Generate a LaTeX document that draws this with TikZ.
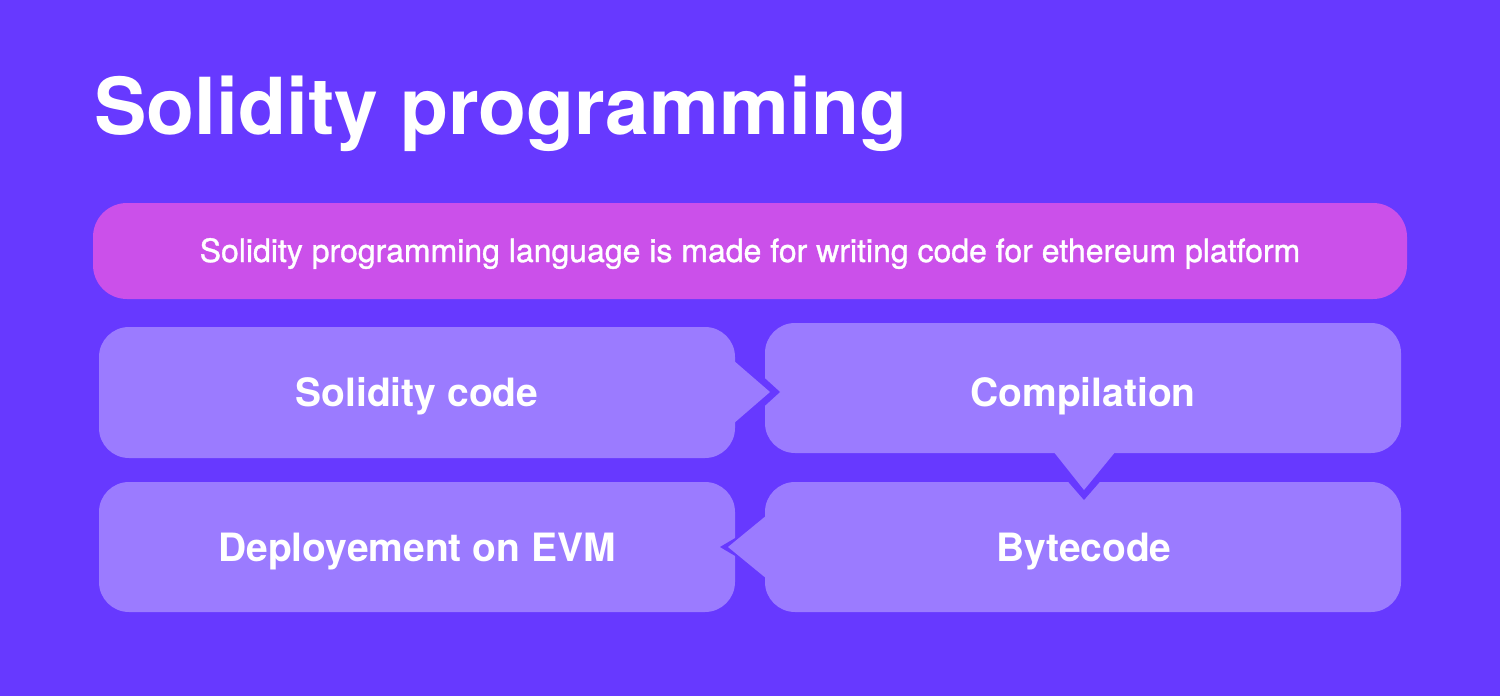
\documentclass[tikz,border=0pt]{standalone}
\usepackage{fontspec}
\setmainfont{TeX Gyre Heros}
\newfontfamily\medfont[FakeBold=1.1]{TeX Gyre Heros}
\usepackage{tikz}
\definecolor{solbg}{HTML}{6739FF}
\definecolor{solpink}{HTML}{CB50EA}
\definecolor{solbox}{HTML}{9B7BFF}

\begin{document}
\begin{tikzpicture}[x=0.5pt,y=-0.5pt,
	hop/.style={fill=solbox,rounded corners=15pt},
	khe/.style={fill=solbg},
	chu/.style={text=white,anchor=base,font=\bfseries\fontsize{19.5}{19.5}\selectfont}]
			\fill[solbg] (0,0) rectangle (1500,696);
			\useasboundingbox (0,0) rectangle (1500,696);
			
			\node[anchor=base west,inner sep=0pt,text=white,font=\bfseries\fontsize{39.3}{39.3}\selectfont] (tieude) at (94,134) {Solidity programming};
			
			\fill[solpink,rounded corners=17pt] (93,203) rectangle (1407,299);
			\node[anchor=base,text=white,font=\medfont\fontsize{16}{16}\selectfont] (gioithieu) at (750,262) {Solidity programming language is made for writing code for ethereum platform};
			
			\fill[hop] (765,323) rectangle (1401,453);
			\fill[hop] (765,482) rectangle (1401,612);
			\fill[hop] (99,482) rectangle (735,612);
			
			\fill[khe] (758,372) -- (780,392) -- (758,412) -- cycle;
			\fill[khe] (1064,477) -- (1084,500) -- (1104,477) -- cycle;
			\fill[khe] (742,534) -- (720,547) -- (742,560) -- cycle;
			
			\fill[hop] (99,327) rectangle (735,458);
			\fill[solbox] (733,360) -- (770,392) -- (733,424) -- cycle;
			\fill[solbox] (1053,451) -- (1084,490) -- (1116,451) -- cycle;
			\fill[solbox] (767,515) -- (728,547) -- (767,579) -- cycle;
			
			\node[chu] (code) at (417,406) {Solidity code};
			\node[chu] (compile) at (1083,406) {Compilation};
			\node[chu] (bytecode) at (1084,561) {Bytecode};
			\node[chu] (deploy) at (417,561) {Deployement on EVM};
		\end{tikzpicture}
\end{document}
